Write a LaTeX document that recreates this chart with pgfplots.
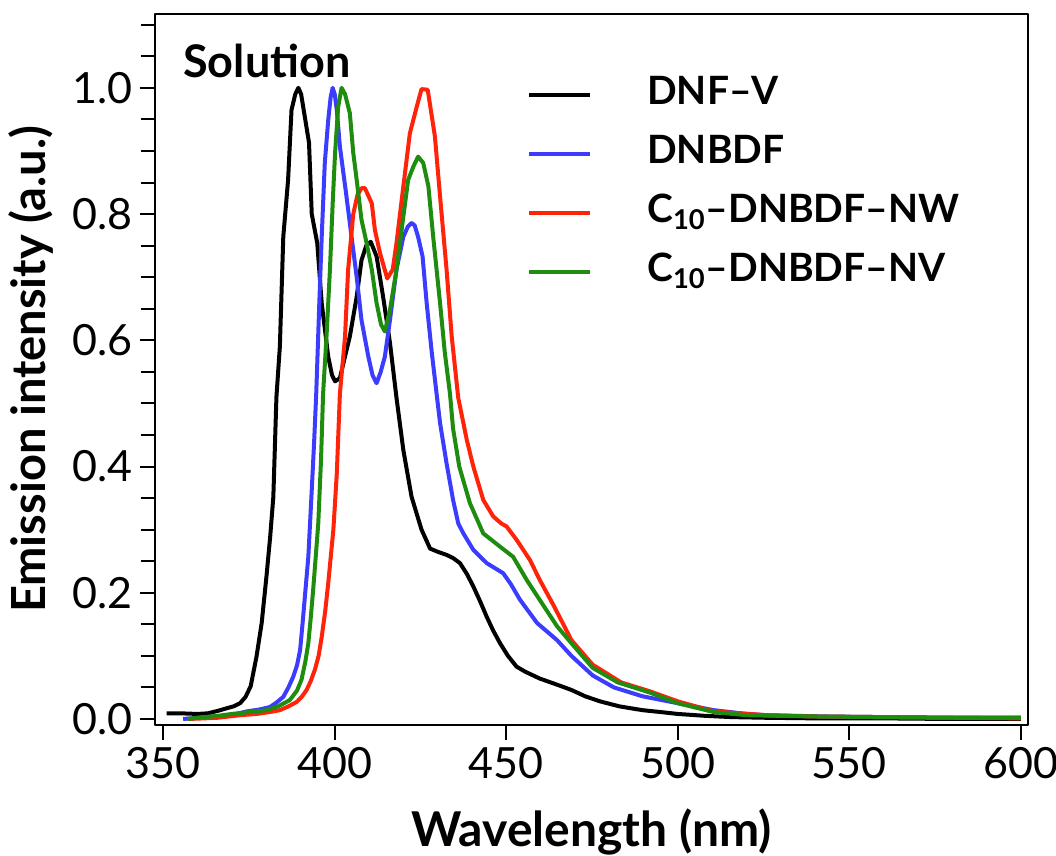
\documentclass[border=0pt]{standalone}
\usepackage{fontspec}
\setmainfont{Lato}
\usepackage{pgfplots}
\pgfplotsset{compat=1.18}
\definecolor{cblue}{RGB}{60,60,255}
\definecolor{cred}{RGB}{255,35,10}
\definecolor{cgreen}{RGB}{30,140,15}
\begin{document}
\begin{tikzpicture}
\path[use as bounding box] (-77.5pt,-65.5pt) rectangle (450.5pt,362.5pt);
\begin{axis}[
  scale only axis, width=436.5pt, height=355.5pt,
  at={(0,0)}, anchor=south west,
  xmin=347.6, xmax=602.1, ymin=-0.0095, ymax=1.117,
  xtick={350,400,450,500,550,600},
  ytick={0,0.2,0.4,0.6,0.8,1.0},
  minor ytick={0.05,0.1,0.15,0.25,0.3,0.35,0.45,0.5,0.55,0.65,0.7,0.75,0.85,0.9,0.95,1.05,1.1},
  tick pos=left, tick align=outside,
  major tick length=7.5pt, minor tick length=7pt,
  tick style={line width=1pt, black},
  axis line style={line width=1pt},
  /pgf/number format/assume math mode=true,
  ticklabel style={font=\fontsize{21.5}{24}\selectfont},
  yticklabel style={/pgf/number format/.cd, fixed, fixed zerofill, precision=1},
  xticklabel style={/pgf/number format/1000 sep={}},
  xlabel={Wavelength (nm)},
  ylabel={Emission intensity (a.u.)},
  every axis x label/.style={at={(rel axis cs:0.5,0)}, yshift=-53.5pt, anchor=center, font=\fontsize{24}{27}\selectfont\bfseries},
  every axis y label/.style={at={(rel axis cs:0,0.5)}, xshift=-62pt, rotate=90, anchor=center, font=\fontsize{23.5}{26}\selectfont\bfseries},
  legend cell align=left,
  legend image code/.code={\draw[#1, line width=2pt] (0pt,0pt) -- (30.5pt,0pt);},
  legend style={draw=none, fill=none, inner sep=0pt,
    at={(rel axis cs:0.426,0.912)}, anchor=north west,
    font=\fontsize{19.5}{22}\selectfont\bfseries,
    nodes={inner sep=0pt, text height=14pt, text depth=4pt},
    row sep=11.5pt,
    /tikz/every odd column/.append style={column sep=27.5pt}},
  line join=round,
]
\addplot[black, line width=2pt] coordinates {
(351,0.009)(355,0.009)(360,0.008)(363,0.009)(366,0.013)(368.5,0.017)(370.5,0.02)(372.4,0.025)
(374,0.035)(375.5,0.052)(377.2,0.099)(378.7,0.152)(380.1,0.226)(381.2,0.29)(382.1,0.352)(383,0.51)
(384,0.59)(385,0.764)(386.4,0.854)(387.4,0.965)(388.5,0.99)(389.4,1.0)(390.2,0.99)(390.8,0.97)
(392.5,0.913)(393.3,0.80)(394.9,0.754)(396.2,0.659)(398.1,0.574)(399.2,0.545)(400.1,0.535)(401.5,0.54)
(402.8,0.57)(404.4,0.606)(406.4,0.669)(407.8,0.727)(409.2,0.75)(410.5,0.756)(412.2,0.733)(414.1,0.669)
(416.1,0.596)(418,0.509)(420,0.426)(422.4,0.352)(425.3,0.30)(427.8,0.27)(430,0.265)(432.6,0.26)
(434.5,0.255)(436.5,0.247)(438.5,0.23)(440.4,0.21)(442.5,0.185)(444.3,0.162)(446.2,0.14)(448.2,0.12)
(450.5,0.10)(453,0.083)(455.5,0.075)(459.8,0.064)(465,0.054)(469,0.046)(473,0.036)(477.3,0.028)
(483,0.02)(489.7,0.014)(495,0.011)(500,0.008)(508,0.005)(515.7,0.003)(525,0.002)(540,0.001)
(560,0.001)(580,0.0)(600,0.0)
};
\addlegendentry{DNF--V}
\addplot[cblue, line width=2pt] coordinates {
(355.8,0.0)(360,0.002)(365,0.004)(370,0.006)(374.3,0.012)(378,0.015)(381.1,0.019)(383,0.026)
(385,0.035)(386.5,0.05)(387.9,0.067)(389,0.085)(389.9,0.109)(390.6,0.15)(391.3,0.194)(392.3,0.257)
(393.3,0.363)(394,0.44)(394.6,0.515)(395.5,0.659)(396.2,0.764)(397.1,0.881)(398.1,0.949)(398.8,0.985)
(399.4,1.0)(400,0.99)(400.6,0.965)(401.5,0.907)(403.3,0.833)(404.9,0.764)(406.4,0.70)(407.8,0.632)
(409.8,0.574)(411,0.545)(412.2,0.532)(413.4,0.55)(414.6,0.574)(416.1,0.632)(418,0.712)(420,0.764)
(421.3,0.78)(422.4,0.786)(423.3,0.782)(424.3,0.764)(425.6,0.733)(426.8,0.659)(428.3,0.58)(429.7,0.515)
(430.7,0.469)(432.6,0.405)(434.5,0.347)(436,0.31)(437.5,0.294)(440.4,0.268)(444.3,0.247)(449.1,0.231)
(451.3,0.214)(454,0.189)(459,0.152)(464.8,0.125)(469,0.10)(475.2,0.069)(481.4,0.05)(489.7,0.036)
(500,0.025)(510.5,0.014)(520,0.008)(526,0.006)(543,0.004)(560,0.003)(580,0.002)(600,0.002)
};
\addlegendentry{DNBDF}
\addplot[cred, line width=2pt] coordinates {
(357,0.0)(362,0.001)(366,0.002)(372.4,0.006)(377.2,0.008)(381,0.011)(384,0.014)(386.5,0.02)
(388.9,0.027)(390.5,0.036)(391.8,0.046)(393,0.06)(394.2,0.078)(395.3,0.1)(396.2,0.13)(397.2,0.17)
(398.1,0.215)(399.6,0.30)(400.6,0.389)(401.5,0.515)(403,0.606)(403.9,0.712)(405.4,0.80)(406.6,0.83)
(407.8,0.841)(408.8,0.841)(410.8,0.817)(411.7,0.775)(413.2,0.738)(415.3,0.698)(416.9,0.712)(418,0.754)
(420,0.844)(421.9,0.928)(423.9,0.970)(425.3,0.998)(427.1,0.997)(429.2,0.923)(430.7,0.828)(432.6,0.712)
(434.1,0.606)(436,0.509)(438.5,0.442)(440.4,0.40)(443.3,0.347)(446.2,0.321)(448.5,0.31)(450.1,0.305)
(453,0.284)(456.9,0.252)(459.8,0.22)(463.8,0.18)(469,0.125)(475.2,0.086)(483.5,0.058)(491.8,0.044)
(500,0.028)(510.5,0.012)(526,0.006)(540,0.004)(560,0.003)(580,0.002)(600,0.001)
};
\addlegendentry{C\textsubscript{10}--DNBDF--NW}
\addplot[cgreen, line width=2pt] coordinates {
(357,0.0)(362,0.003)(366,0.005)(370,0.008)(373.4,0.01)(377,0.012)(380.1,0.014)(383.5,0.02)
(386.9,0.030)(389,0.045)(390.3,0.062)(391.4,0.09)(392.3,0.12)(393,0.16)(393.7,0.204)(394.5,0.26)
(395.2,0.31)(396,0.41)(396.6,0.515)(397.6,0.606)(398.6,0.712)(399.4,0.817)(400.1,0.897)(401,0.97)
(402,1.0)(403,0.99)(404.4,0.96)(405.4,0.897)(406.4,0.854)(407.8,0.791)(409.3,0.754)(410.8,0.712)
(412.2,0.659)(413.5,0.625)(414.6,0.614)(416.1,0.648)(418,0.712)(420,0.796)(421.4,0.854)(422.9,0.875)
(424.3,0.891)(425.8,0.881)(427.3,0.844)(428.7,0.764)(430.7,0.659)(432.1,0.58)(433.6,0.515)(434.5,0.46)
(436.3,0.40)(439.4,0.342)(443.3,0.294)(448.2,0.273)(452,0.257)(456,0.22)(459,0.195)(464.8,0.147)
(469,0.12)(475.2,0.081)(482.5,0.058)(491.8,0.042)(500,0.025)(510.5,0.011)(520,0.006)(540,0.004)
(560,0.003)(580,0.002)(600,0.002)
};
\addlegendentry{C\textsubscript{10}--DNBDF--NV}
\node[anchor=base west, inner sep=0pt, font=\fontsize{22.5}{25}\selectfont\bfseries] at (rel axis cs:0.032,0.911) {Solution};
\end{axis}
\end{tikzpicture}
\end{document}
